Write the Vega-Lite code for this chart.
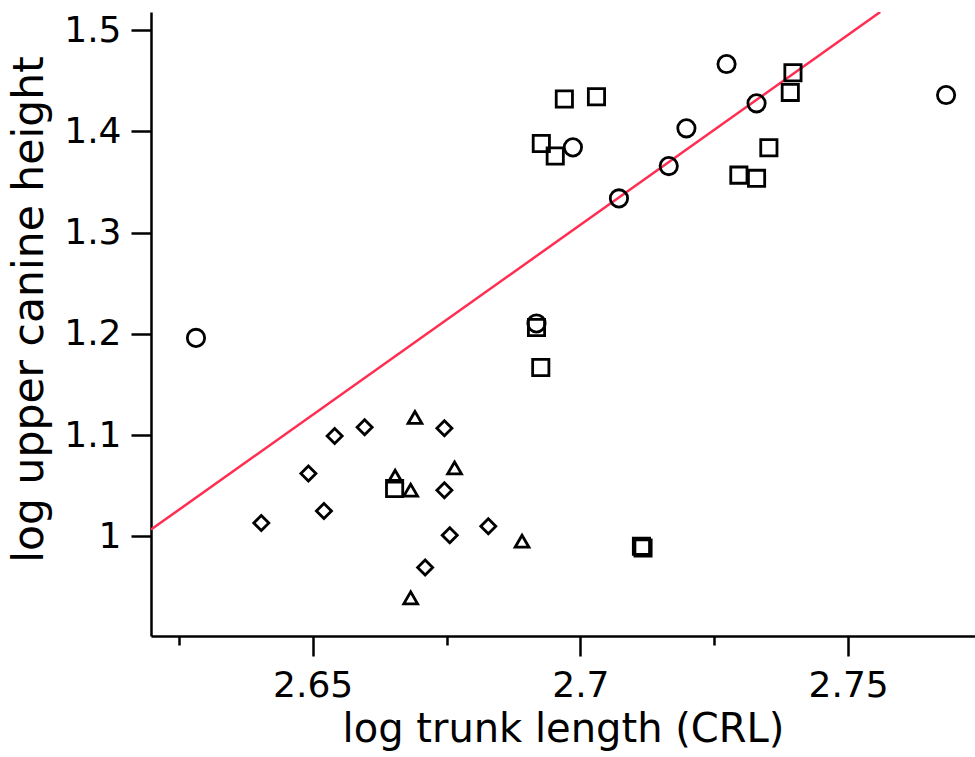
{
  "$schema": "https://vega.github.io/schema/vega-lite/v6.json",
  "width": 824,
  "height": 624,
  "autosize": {"type": "none"},
  "padding": {"left": 151, "top": 12, "right": 0, "bottom": 121},
  "background": "white",
  "config": {
    "view": {"stroke": null},
    "axis": {
      "domainColor": "black",
      "domainWidth": 2.5,
      "tickColor": "black",
      "tickWidth": 2.5,
      "grid": false,
      "labelColor": "black",
      "titleColor": "black",
      "labelFont": "DejaVu Sans",
      "titleFont": "DejaVu Sans",
      "labelFontSize": 36,
      "titleFontSize": 40,
      "titleFontWeight": "normal"
    }
  },
  "datasets": {
    "fit": [
      {"crl": 2.6198, "canine": 1.0066},
      {"crl": 2.756, "canine": 1.5178}
    ],
    "points": [
      {"group": "circle", "crl": 2.6282, "canine": 1.1959},
      {"group": "circle", "crl": 2.6918, "canine": 1.2102},
      {"group": "circle", "crl": 2.6986, "canine": 1.3841},
      {"group": "circle", "crl": 2.7072, "canine": 1.3337},
      {"group": "circle", "crl": 2.7165, "canine": 1.3656},
      {"group": "circle", "crl": 2.7198, "canine": 1.4029},
      {"group": "circle", "crl": 2.7273, "canine": 1.4664},
      {"group": "circle", "crl": 2.7329, "canine": 1.4276},
      {"group": "circle", "crl": 2.7683, "canine": 1.4358},
      {"group": "square", "crl": 2.6927, "canine": 1.388},
      {"group": "square", "crl": 2.6953, "canine": 1.3755},
      {"group": "square", "crl": 2.697, "canine": 1.4318},
      {"group": "square", "crl": 2.703, "canine": 1.4341},
      {"group": "square", "crl": 2.6918, "canine": 1.2062},
      {"group": "square", "crl": 2.6926, "canine": 1.1667},
      {"group": "square", "crl": 2.6653, "canine": 1.0471},
      {"group": "square", "crl": 2.7114, "canine": 0.9902},
      {"group": "square", "crl": 2.7117, "canine": 0.9885},
      {"group": "square", "crl": 2.7296, "canine": 1.3567},
      {"group": "square", "crl": 2.7329, "canine": 1.3535},
      {"group": "square", "crl": 2.7352, "canine": 1.3837},
      {"group": "square", "crl": 2.7392, "canine": 1.4384},
      {"group": "square", "crl": 2.7397, "canine": 1.4578},
      {"group": "diamond", "crl": 2.6404, "canine": 1.0131},
      {"group": "diamond", "crl": 2.6492, "canine": 1.062},
      {"group": "diamond", "crl": 2.6521, "canine": 1.025},
      {"group": "diamond", "crl": 2.6541, "canine": 1.0991},
      {"group": "diamond", "crl": 2.6597, "canine": 1.1077},
      {"group": "diamond", "crl": 2.6746, "canine": 1.1067},
      {"group": "diamond", "crl": 2.6746, "canine": 1.0455},
      {"group": "diamond", "crl": 2.6828, "canine": 1.0099},
      {"group": "diamond", "crl": 2.6756, "canine": 1.001},
      {"group": "diamond", "crl": 2.671, "canine": 0.9691},
      {"group": "triangle", "crl": 2.6691, "canine": 1.1173},
      {"group": "triangle", "crl": 2.6765, "canine": 1.0675},
      {"group": "triangle", "crl": 2.6654, "canine": 1.0593},
      {"group": "triangle", "crl": 2.6683, "canine": 1.0455},
      {"group": "triangle", "crl": 2.6891, "canine": 0.9951},
      {"group": "triangle", "crl": 2.6683, "canine": 0.9392}
    ]
  },
  "layer": [
    {
      "data": {"name": "fit"},
      "mark": {"type": "line", "color": "#ff2d52", "strokeWidth": 2.5, "clip": true},
      "encoding": {
        "x": {
          "field": "crl",
          "type": "quantitative",
          "scale": {"domain": [2.6198, 2.7737], "nice": false, "zero": false},
          "axis": {
            "title": "log trunk length (CRL)",
            "values": [2.625, 2.65, 2.675, 2.7, 2.725, 2.75],
            "labelExpr": "round(datum.value * 1000) % 50 == 0 ? format(datum.value, '~g') : ''",
            "tickSize": {"condition": {"test": "round(datum.value * 1000) % 50 == 0", "value": 20}, "value": 9},
            "labelPadding": 12,
            "titlePadding": 6
          }
        },
        "y": {
          "field": "canine",
          "type": "quantitative",
          "scale": {"domain": [0.9015, 1.5178], "nice": false, "zero": false},
          "axis": {
            "title": "log upper canine height",
            "titleFontSize": 42.5,
            "titleY": 297,
            "values": [1, 1.1, 1.2, 1.3, 1.4, 1.5],
            "format": "~g",
            "tickSize": 20,
            "labelPadding": 10,
            "titlePadding": 12
          }
        }
      }
    },
    {
      "data": {"name": "points"},
      "mark": {"type": "point", "filled": false, "strokeWidth": 2.8, "color": "black", "opacity": 1},
      "encoding": {
        "x": {"field": "crl", "type": "quantitative", "scale": {"domain": [2.6198, 2.7737], "nice": false, "zero": false}},
        "y": {"field": "canine", "type": "quantitative", "scale": {"domain": [0.9015, 1.5178], "nice": false, "zero": false}},
        "shape": {
          "field": "group",
          "type": "nominal",
          "scale": {"domain": ["circle", "square", "diamond", "triangle"], "range": ["circle", "square", "diamond", "triangle-up"]},
          "legend": null
        },
        "size": {
          "field": "group",
          "type": "nominal",
          "scale": {"domain": ["circle", "square", "diamond", "triangle"], "range": [300, 190, 160, 160]},
          "legend": null
        }
      }
    }
  ]
}
